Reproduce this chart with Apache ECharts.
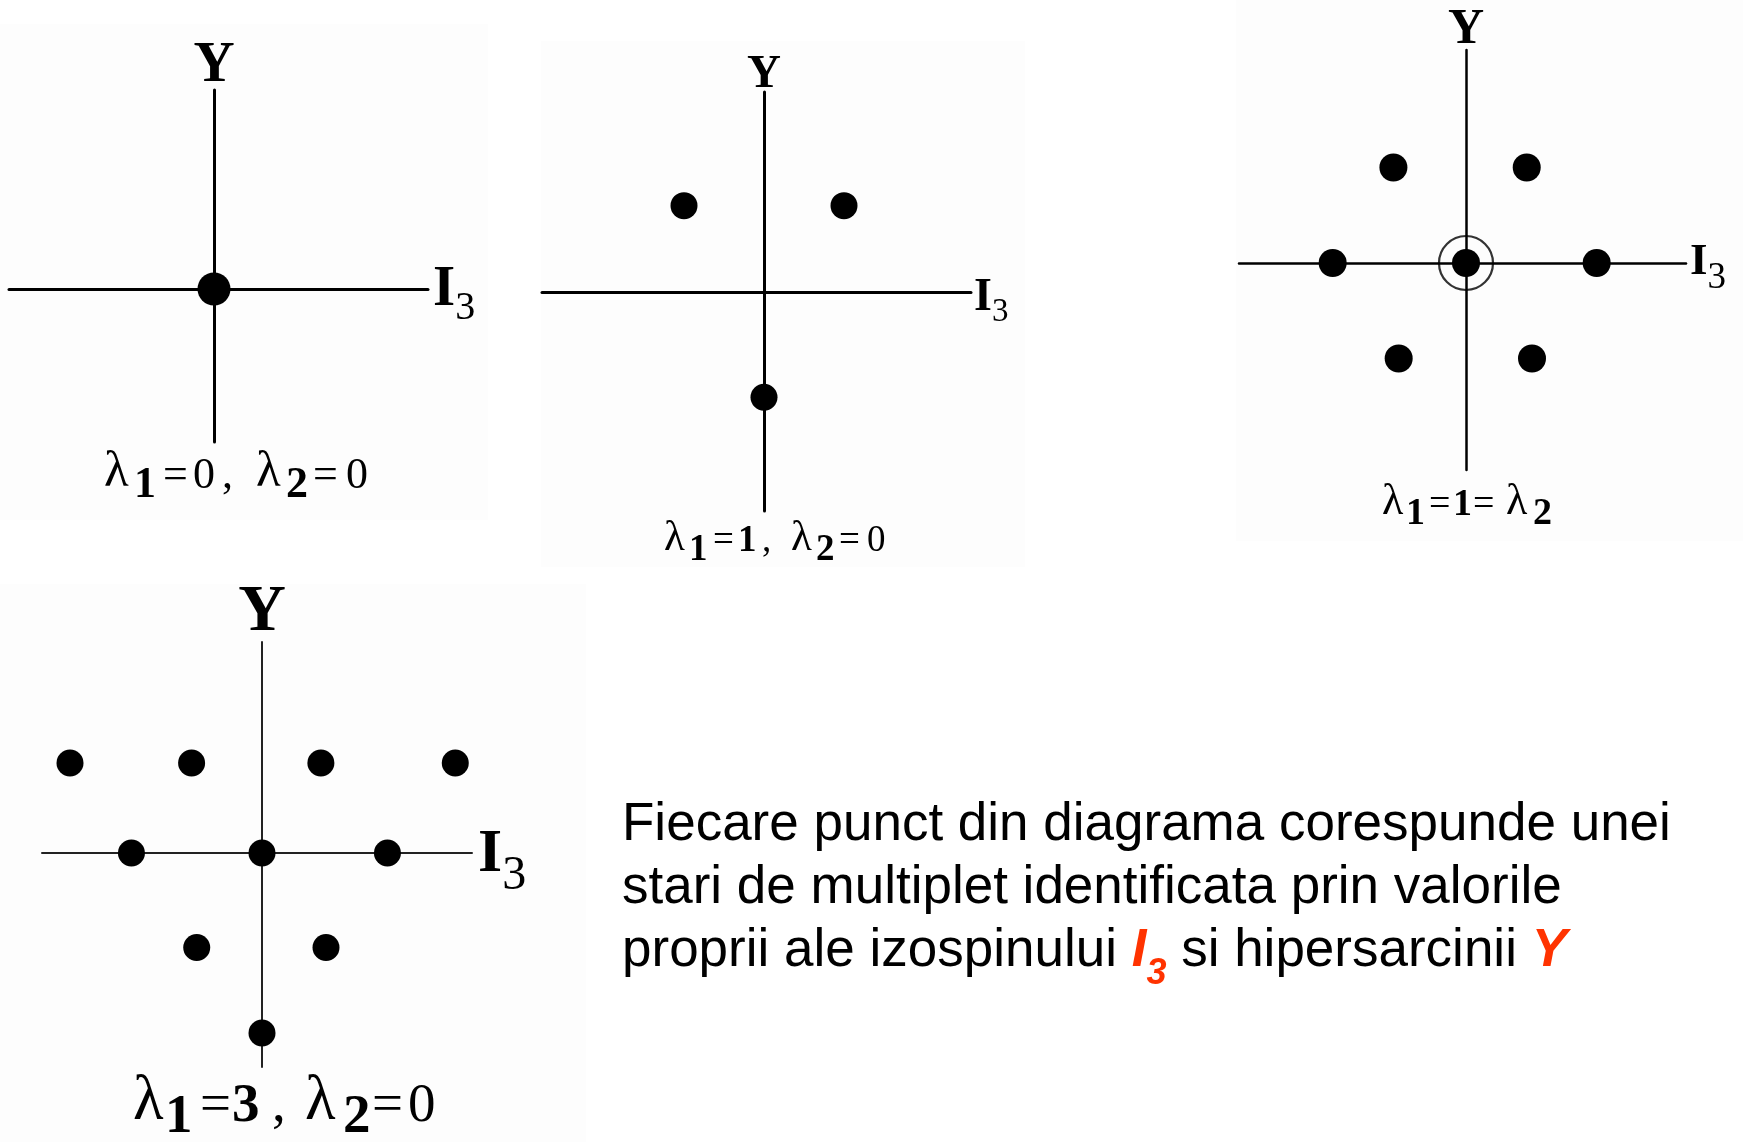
<!DOCTYPE html>
<html>
<head>
<meta charset="utf-8">
<title>Diagrame de pondere SU(3)</title>
<script src="https://cdn.jsdelivr.net/npm/echarts@6/dist/echarts.min.js"></script>
<style>
  html, body { margin: 0; padding: 0; background: #fff; }
  #chart { width: 1743px; height: 1142px; }
</style>
</head>
<body>
<div id="chart"></div>
<script>
// states as [I3, Y] (hand drawn, so not perfectly regular)
const singlet = [[0, 0]]
const triplet = [[-0.5, 0.55], [0.5, 0.55], [0, -0.67]]
const octet = [[-0.55, 1.0], [0.46, 1.0], [-1.01, 0], [0, 0], [0.99, 0], [-0.51, -1.0], [0.5, -1.0]]
const octetCentre = [[0, 0]]
const decuplet = [
  [-1.5, 1.0], [-0.55, 1.0], [0.46, 1.0], [1.51, 1.0],
  [-1.02, 0], [0, 0], [0.98, 0],
  [-0.51, -1.05], [0.5, -1.05],
  [0, -2.0],
]

const axisNameX = '{i|I}{s|3}'
const axisNameY = 'Y'
// caption glyphs: [kind, text]; l = lambda, s = bold subscript, n = normal, b = bold
const captions = [
  [['l', 'λ'], ['s', '1'], ['n', '='], ['n', '0'], ['n', ','], ['l', 'λ'], ['s', '2'], ['n', '='], ['n', '0']],
  [['l', 'λ'], ['s', '1'], ['n', '='], ['b', '1'], ['n', ','], ['l', 'λ'], ['s', '2'], ['n', '='], ['n', '0']],
  [['l', 'λ'], ['s', '1'], ['n', '='], ['b', '1'], ['n', '='], ['l', 'λ'], ['s', '2']],
  [['l', 'λ'], ['s', '1'], ['n', '='], ['b', '3'], ['n', ','], ['l', 'λ'], ['s', '2'], ['n', '='], ['n', '0']],
]
const noteLines = [
  'Fiecare punct din diagrama corespunde unei',
  'stari de multiplet identificata prin valorile',
  'proprii ale izospinului ',
]
const noteTail = ' si hipersarcinii '

const serif = "'Liberation Serif', 'Times New Roman', serif"
const sans = "'Liberation Sans', Arial, sans-serif"

// pixel frame of each diagram: axis ends, crossing point, px per unit
const frames = [
  { data: singlet, left: 9, right: 428, top: 90, bottom: 442, ox: 214, oy: 289, ux: 128, uy: 90,
    lw: 3, lc: '#000', dot: 33, yFont: 57, xFont: 57, subFont: 40, drop: 10, xGap: 5, yGap: -5 },
  { data: triplet, left: 542, right: 971, top: 92, bottom: 511, ox: 764, oy: 292, ux: 160, uy: 157,
    lw: 3, lc: '#000', dot: 27, yFont: 47, xFont: 46, subFont: 33, drop: 8, xGap: 3, yGap: -6 },
  { data: octet, left: 1239, right: 1686, top: 50, bottom: 470, ox: 1466, oy: 263, ux: 132, uy: 95.5,
    lw: 2.5, lc: '#000', dot: 28, yFont: 50, xFont: 45, subFont: 37, drop: 12, xGap: 4, yGap: -5 },
  { data: decuplet, left: 42, right: 472, top: 642, bottom: 1067, ox: 262, oy: 853, ux: 128, uy: 90,
    lw: 2, lc: '#222', dot: 27, yFont: 66, xFont: 62, subFont: 48, drop: 14, xGap: 6, yGap: -4 },
]
// shift of the I3 name below the axis line
const nameDrop = [11, 14, 11, 16]

// caption placement: start-to-start width of each glyph box
const captionBoxes = [
  { left: 104, top: 464, fs: 44, d: 10, w: [30, 29, 30, 29, 34, 30, 27, 33, 24] },
  { left: 664, top: 532, fs: 37, d: 9, w: [25, 24, 25, 24, 29, 25, 23, 28, 20] },
  { left: 1382, top: 495, fs: 38, d: 9, w: [24, 23, 24, 20, 33, 27, 20] },
  { left: 133, top: 1090, fs: 55, d: 11, w: [32, 35, 32, 40, 33, 38, 29, 36, 30] },
]

// faint grey backdrop of the pasted figures
const backdrops = [
  [0, 24, 488, 496],
  [541, 41, 484, 526],
  [1236, 0, 507, 541],
  [0, 584, 586, 558],
]

const grid = [], xAxis = [], yAxis = [], series = [], title = []

frames.forEach((f, i) => {
  grid.push({
    left: f.left, top: f.top, width: f.right - f.left, height: f.bottom - f.top,
    outerBoundsMode: 'none',
  })
  const line = { show: true, onZero: true, lineStyle: { color: f.lc, width: f.lw } }
  xAxis.push({
    gridIndex: i, type: 'value',
    min: -(f.ox - f.left) / f.ux, max: (f.right - f.ox) / f.ux,
    axisLine: line, axisTick: { show: false }, axisLabel: { show: false }, splitLine: { show: false },
    name: axisNameX, nameLocation: 'end', nameGap: f.xGap,
    nameTextStyle: {
      padding: [nameDrop[i] * 2, 0, 0, 0],
      rich: {
        i: { fontFamily: serif, fontWeight: 'bold', fontSize: f.xFont, lineHeight: f.xFont,
          color: '#000', verticalAlign: 'bottom', padding: [0, 0, f.drop, 0] },
        s: { fontFamily: serif, fontWeight: 'normal', fontSize: f.subFont, lineHeight: f.subFont,
          color: '#000', verticalAlign: 'bottom' },
      },
    },
  })
  yAxis.push({
    gridIndex: i, type: 'value',
    min: -(f.bottom - f.oy) / f.uy, max: (f.oy - f.top) / f.uy,
    axisLine: line, axisTick: { show: false }, axisLabel: { show: false }, splitLine: { show: false },
    name: axisNameY, nameLocation: 'end', nameGap: f.yGap,
    nameTextStyle: { fontFamily: serif, fontWeight: 'bold', fontSize: f.yFont, color: '#000', align: 'center' },
  })
  series.push({
    type: 'scatter', xAxisIndex: i, yAxisIndex: i, data: f.data,
    symbol: 'circle', symbolSize: f.dot, itemStyle: { color: '#000', opacity: 1 },
    silent: true, z: 5,
  })

  const c = captionBoxes[i]
  const rich = {}
  let text = ''
  captions[i].forEach(([kind, ch], k) => {
    rich['t' + k] = {
      fontFamily: serif, fontSize: kind === 'l' ? Math.round(c.fs * 1.15) : c.fs, lineHeight: c.fs,
      color: '#000', fontWeight: kind === 's' || kind === 'b' ? 'bold' : 'normal',
      verticalAlign: 'bottom', align: 'left', width: c.w[k],
      padding: kind === 's' ? 0 : [0, 0, c.d, 0],
    }
    text += '{t' + k + '|' + ch + '}'
  })
  title.push({ text, left: c.left, top: c.top, padding: 0, textStyle: { rich } })
})

// the doubly occupied centre of the octet
series.push({
  type: 'scatter', xAxisIndex: 2, yAxisIndex: 2, data: octetCentre,
  symbol: 'circle', symbolSize: 54,
  itemStyle: { color: 'rgba(0,0,0,0)', borderColor: '#000', borderWidth: 2.2 },
  silent: true, z: 4,
})

const red = '#ff3300'
title.push({
  text: [
    '{t|' + noteLines[0] + '}',
    '{t|' + noteLines[1] + '}',
    '{t|' + noteLines[2] + '}{r|I}{rs|3}{t|' + noteTail + '}{r|Y}',
  ].join('\n'),
  left: 622, top: 794, padding: 0,
  textStyle: {
    fontWeight: 'normal',
    rich: {
      t: { fontFamily: sans, fontSize: 53, lineHeight: 63, color: '#000', fontWeight: 'normal' },
      r: { fontFamily: sans, fontSize: 53, lineHeight: 63, color: red, fontWeight: 'bold', fontStyle: 'italic' },
      rs: { fontFamily: sans, fontSize: 36, lineHeight: 1, color: red, fontWeight: 'bold', fontStyle: 'italic',
        verticalAlign: 'top', padding: [36, 0, 0, 0] },
    },
  },
})

const chart = echarts.init(document.getElementById('chart'))
chart.setOption({
  animation: false,
  backgroundColor: '#fff',
  graphic: backdrops.map(([x, y, w, h]) => ({
    type: 'rect', shape: { x, y, width: w, height: h }, style: { fill: '#fdfdfd' }, z: -10, silent: true,
  })),
  title,
  grid,
  xAxis,
  yAxis,
  series,
})
</script>
</body>
</html>
